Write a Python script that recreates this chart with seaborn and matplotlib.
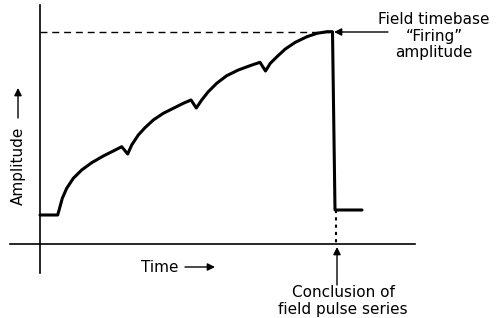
import matplotlib
matplotlib.use("Agg")
import matplotlib.pyplot as plt
import seaborn as sns
import pandas as pd

# 时间/幅度 (任意单位, 原点为坐标轴交点)
time = [0, 17.7, 20, 22.3, 26.7, 33.3, 41.7, 51.7, 63.3, 73.3, 81.7,
        87.7, 91.7, 98.3, 105, 113.3, 123.3, 133.3, 143.3, 151,
        156.3, 161.7, 168.3, 176.7, 186.7, 198.3, 210, 220,
        225.5, 230.3, 237, 245.3, 255.3, 267, 277, 287, 292.5,
        295, 322]
amplitude = [29, 29, 37.3, 45.7, 55.7, 65.7, 74, 81.3, 88, 93, 97.3,
             90, 99, 109, 116.3, 124, 130.7, 135.7, 140.7, 144,
             136, 144, 152.3, 160.7, 168.3, 174, 178.3, 181.7,
             173, 180.7, 187.3, 195, 201.7, 207.3, 210.7, 212.3, 212.3,
             34, 34]

firing_level = 212
firing_end = 290
conclusion_time = 296
conclusion_amp = 34

sns.set_style("white")
plt.rcParams['font.family'] = ['DejaVu Sans']
plt.rcParams['text.color'] = 'black'

df = pd.DataFrame({'time': time, 'amplitude': amplitude})

fig = plt.figure(figsize=(5.01, 3.18), dpi=100)
ax = fig.add_axes([0, 0, 1, 1])

sns.lineplot(data=df, x='time', y='amplitude', sort=False, color='black',
             linewidth=2.2, ax=ax)

# 触发电平虚线
ax.plot([0, firing_end], [firing_level, firing_level], color='black',
        linewidth=1.0, dashes=(5, 3.5))

# 结束点的点线
ax.plot([conclusion_time, conclusion_time], [conclusion_amp, 0], color='black',
        linewidth=1.5, linestyle=(0, (1.5, 2)))

ax.set_xlim(-40, 461)
ax.set_ylim(-74, 244)

# 坐标轴线
for side in ['top', 'right']:
    ax.spines[side].set_visible(False)
ax.spines['left'].set_position(('data', 0))
ax.spines['bottom'].set_position(('data', 0))
ax.spines['left'].set_bounds(-29, 239)
ax.spines['bottom'].set_bounds(-30, 375)
for side in ['left', 'bottom']:
    ax.spines[side].set_color('black')
    ax.spines[side].set_linewidth(1.2)
ax.set_xticks([])
ax.set_yticks([])
ax.set_xlabel('')
ax.set_ylabel('')

arrow = dict(arrowstyle='-|>', color='black', lw=1.0, mutation_scale=11,
             shrinkA=0, shrinkB=0)

# 轴标签
ax.text(-22, 78, 'Amplitude', rotation=90, ha='center', va='center', fontsize=11)
ax.annotate('', xy=(-22, 156), xytext=(-22, 126), arrowprops=arrow)
ax.text(120, -23, 'Time', ha='center', va='center', fontsize=11)
ax.annotate('', xy=(175, -23), xytext=(145, -23), arrowprops=arrow)

# 注释
ax.text(394, 208, 'Field timebase\n\u201cFiring\u201d\namplitude', ha='center',
        va='center', fontsize=11, linespacing=1.1)
ax.annotate('', xy=(294, 212), xytext=(348, 212), arrowprops=arrow)

ax.text(303, -57, 'Conclusion of\nfield pulse series', ha='center',
        va='center', fontsize=11, linespacing=1.1)
ax.annotate('', xy=(297, -3), xytext=(297, -41), arrowprops=arrow)

fig.savefig('out.png', dpi=100)
